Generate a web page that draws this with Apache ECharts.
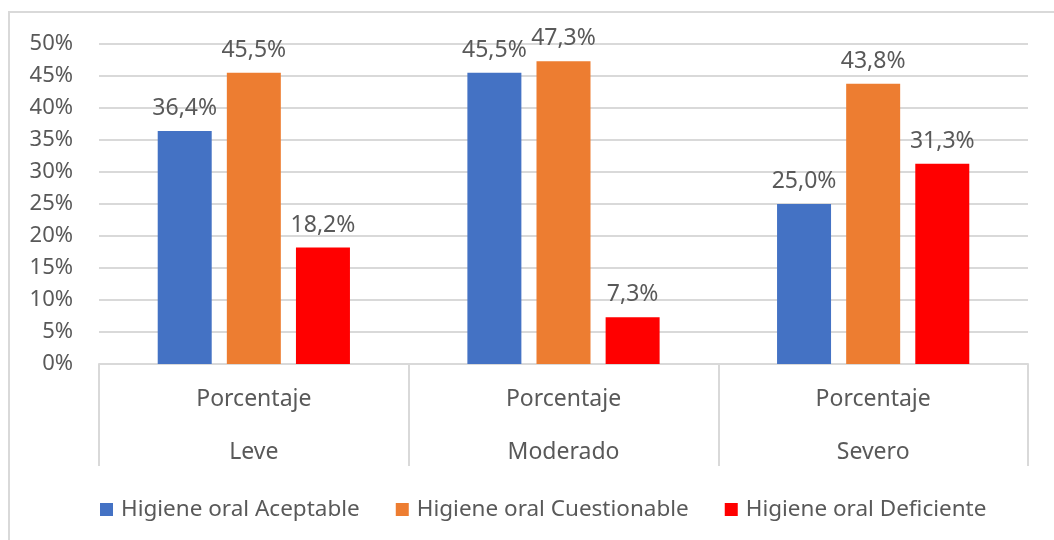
<!DOCTYPE html>
<html>
<head>
<meta charset="utf-8">
<script src="https://cdn.jsdelivr.net/npm/echarts@6/dist/echarts.min.js"></script>
<style>
  html, body { margin: 0; padding: 0; background: #fff; }
  #chart { width: 1054px; height: 540px; }
</style>
</head>
<body>
<div id="chart"></div>
<script>
// Severity groups and the common sub-label shown above each group name
const categories = ['Leve', 'Moderado', 'Severo'];
const subLabel = 'Porcentaje';

// Percentages per oral hygiene level
const aceptable = [36.4, 45.5, 25.0];
const cuestionable = [45.5, 47.3, 43.8];
const deficiente = [18.2, 7.3, 31.3];

const seriesNames = ['Higiene oral Aceptable', 'Higiene oral Cuestionable', 'Higiene oral Deficiente'];
const seriesColors = ['#4472C4', '#ED7D31', '#FF0000'];

const FONT = '"Noto Sans", "Open Sans", sans-serif';
const TEXT = '#595959';

const chart = echarts.init(document.getElementById('chart'));

const valueLabel = {
  show: true,
  position: 'top',
  distance: 11,
  color: TEXT,
  fontFamily: FONT,
  fontSize: 23,
  formatter: p => p.value.toFixed(1).replace('.', ',') + '%'
};

function bar(name, data, color) {
  return {
    name: name,
    type: 'bar',
    data: data,
    barWidth: 54,
    barGap: '28%',
    itemStyle: { color: color },
    label: valueLabel
  };
}

chart.setOption({
  animation: false,
  textStyle: { fontFamily: FONT },
  graphic: [{
    type: 'rect',
    shape: { x: 9, y: 12, width: 1200, height: 700 },
    style: { fill: 'none', stroke: '#d9d9d9', lineWidth: 2 },
    silent: true,
    z: -1
  }],
  grid: { left: 99, right: 26, top: 44, bottom: 176, containLabel: false },
  legend: {
    bottom: 14,
    left: 95,
    itemWidth: 13,
    itemHeight: 13,
    itemGap: 36,
    icon: 'rect',
    textStyle: { color: TEXT, fontFamily: FONT, fontSize: 22.5, padding: [0, 0, 0, 3] },
    data: seriesNames
  },
  xAxis: {
    type: 'category',
    data: categories,
    axisLine: { lineStyle: { color: '#d9d9d9', width: 2 } },
    axisTick: { show: true, length: 102, interval: 0, lineStyle: { color: '#d9d9d9', width: 2 } },
    axisLabel: {
      margin: 9,
      interval: 0,
      color: TEXT,
      fontFamily: FONT,
      fontSize: 23,
      lineHeight: 53,
      formatter: v => subLabel + '\n' + v
    }
  },
  yAxis: {
    type: 'value',
    min: 0,
    max: 50,
    interval: 5,
    axisLine: { show: false },
    axisTick: { show: false },
    splitLine: { lineStyle: { color: '#d9d9d9', width: 2 } },
    axisLabel: {
      margin: 26,
      color: TEXT,
      fontFamily: FONT,
      fontSize: 22,
      formatter: v => v + '%'
    }
  },
  series: [
    bar(seriesNames[0], aceptable, seriesColors[0]),
    bar(seriesNames[1], cuestionable, seriesColors[1]),
    bar(seriesNames[2], deficiente, seriesColors[2])
  ]
});
</script>
</body>
</html>
